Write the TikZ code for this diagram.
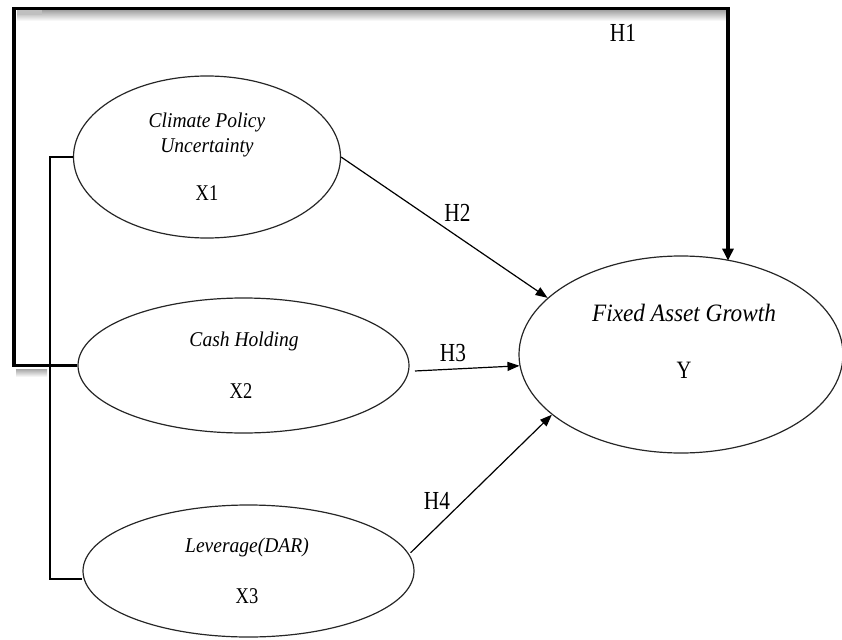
\documentclass[tikz,border=0pt]{standalone}
\usepackage{fontspec}
\setmainfont{Liberation Serif}
\newfontfamily\itl[FakeStretch=0.93]{Liberation Serif}
\newfontfamily\upl[FakeStretch=0.82]{Liberation Serif}
\usetikzlibrary{shapes.geometric,arrows.meta}
\begin{document}
\begin{tikzpicture}[x=1pt,y=-1pt,
  var/.style={draw=black!85,line width=1.2pt,ellipse,inner sep=0pt},
  ittext/.style={anchor=base,inner sep=0pt,font=\itl\itshape\fontsize{21}{24}\selectfont},
  uptext/.style={anchor=base,inner sep=0pt,font=\upl\fontsize{22.5}{26}\selectfont},
  hlab/.style={anchor=base,inner sep=0pt,font=\upl\fontsize{26}{30}\selectfont},
  path/.style={line width=1.2pt,-{Triangle[length=12pt,width=9pt]}},
  thickpath/.style={line width=3.5pt,-{Triangle[length=12pt,width=11pt]}},
  thinline/.style={line width=1.2pt}]
\useasboundingbox (0,0) rectangle (842,639);
% shadow under the thick H1 line
\shade[top color=black!35,bottom color=white] (17,10.5) rectangle (726,21);
\fill[black!25] (17,10.5) rectangle (42,15);
\shade[top color=black!35,bottom color=white] (16,369) rectangle (47,377);
% ellipses
\node[var,minimum width=267pt,minimum height=162pt] (X1) at (207,157) {};
\node[var,minimum width=331pt,minimum height=135pt] (X2) at (243.5,365.5) {};
\node[var,minimum width=331pt,minimum height=132pt] (X3) at (248.5,571) {};
\node[var,minimum width=324pt,minimum height=197pt] (Y) at (681,354.5) {};
% texts
\node[ittext] (t1a) at (207,128) {Climate Policy};
\node[ittext] (t1b) at (207,153) {Uncertainty};
\node[uptext] (t1c) at (207,200) {X1};
\node[ittext] (t2a) at (244,346) {Cash Holding};
\node[uptext] (t2b) at (241,398) {X2};
\node[ittext] (t3a) at (247,552) {Leverage(DAR)};
\node[uptext] (t3b) at (247,603) {X3};
\node[ittext,font=\itl\itshape\fontsize{25}{28}\selectfont] (t4a) at (684,321) {Fixed Asset Growth};
\node[uptext,font=\upl\fontsize{25}{28}\selectfont] (t4b) at (684,378) {Y};
% hypothesis labels
\node[hlab] (h1) at (623,42) {H1};
\node[hlab] (h2) at (457.5,221) {H2};
\node[hlab] (h3) at (453,361) {H3};
\node[hlab] (h4) at (437,509) {H4};
% bracket on the left
\coordinate (b1) at (50,157);
\coordinate (b3) at (50,579);
\draw[thinline] (X1.west) -- (b1) -- (b3) -- (b3 -| X3.west);
\draw[thinline] (b1 |- X2.west) -- (X2.west);
% thick H1 path
\coordinate (c1) at (14,8.5);
\coordinate (c2) at (728,8.5);
\draw[thickpath,line join=miter] (X2.west) -- (c1 |- X2.west) -- (c1) -- (c2) -- (c2 |- Y.61);
% arrows
\draw[path] (X1.east) -- (Y.157);
\draw[path,shorten <=6pt] (X2.-2.5) -- (Y.184.4);
\draw[path,shorten <=2pt] (X3.6) -- (Y.205);
\end{tikzpicture}
\end{document}
